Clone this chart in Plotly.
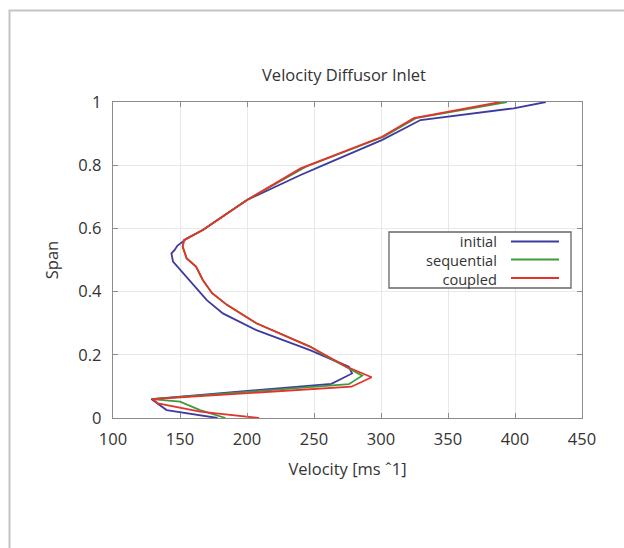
import plotly.graph_objects as go

# ---- data ----
span_initial = [1.0, 0.980, 0.943, 0.880, 0.800, 0.769, 0.690, 0.595, 0.568, 0.545, 0.532, 0.521, 0.495,
                0.447, 0.373, 0.331, 0.278, 0.215, 0.162, 0.141, 0.108, 0.060, 0.025, 0.0]
vel_initial = [423, 399, 329.5, 301, 257, 240, 200, 167, 155, 148, 146, 143.6, 144.8,
               155, 170, 182, 207, 247, 276, 278.4, 263, 128.6, 140, 178]

span_sequential = [1.0, 0.949, 0.890, 0.795, 0.690, 0.595, 0.563, 0.542, 0.505, 0.479, 0.437, 0.395,
                   0.358, 0.300, 0.226, 0.200, 0.134, 0.107, 0.060, 0.052, 0.025, 0.0]
vel_sequential = [394, 326, 302, 244, 200, 167, 153, 152, 155, 162, 167, 174,
                  185, 207, 247, 257, 286, 276, 129, 150, 165, 184]

span_coupled = [1.0, 0.949, 0.890, 0.801, 0.790, 0.690, 0.595, 0.563, 0.542, 0.505, 0.479, 0.437, 0.395,
                0.358, 0.300, 0.226, 0.212, 0.163, 0.129, 0.099, 0.060, 0.046, 0.020, 0.0]
vel_coupled = [389, 324.5, 300.8, 247, 240, 200, 167, 153, 152, 155, 162, 167, 174,
               185, 207, 247, 253, 274, 293, 278, 129.5, 133.6, 165, 209]

series_names = ["initial", "sequential", "coupled"]
series_colors = ["#3f3a9f", "#3f9a3f", "#e5322b"]

x_ticks = [100, 150, 200, 250, 300, 350, 400, 450]
y_ticks = [0, 0.2, 0.4, 0.6, 0.8, 1]
y_ticklabels = ["0", "0.2", "0.4", "0.6", "0.8", "1"]

FONT = "Open Sans"
TXT = "#333333"
FS = 16.5

fig = go.Figure()
for name, xs, ys, col in zip(series_names,
                             [vel_initial, vel_sequential, vel_coupled],
                             [span_initial, span_sequential, span_coupled],
                             series_colors):
    fig.add_trace(go.Scatter(x=xs, y=ys, mode="lines", name=name,
                             line=dict(color=col, width=1.8), showlegend=False))

W, H = 624, 548
ml, mr, mt, mb = 113, 42, 102, 130
pw, ph = W - ml - mr, H - mt - mb

def px_x(p):  # pixel -> paper x
    return (p - ml) / pw

def px_y(p):  # pixel -> paper y
    return (H - mb - p) / ph

shapes = []
annotations = []
# outer L-shaped frame (single open path)
shapes.append(dict(type="path", xref="paper", yref="paper",
                   path="M {:.5f},{:.5f} L {:.5f},{:.5f} L {:.5f},{:.5f}".format(
                       px_x(9.5), px_y(548), px_x(9.5), px_y(10.5), px_x(624), px_y(10.5)),
                   line=dict(color="#c4c4c4", width=2)))
# manual legend (text left, sample line right)
shapes.append(dict(type="rect", xref="paper", yref="paper", x0=px_x(389), x1=px_x(571), y0=px_y(232), y1=px_y(288),
                   line=dict(color="#666666", width=1.3), fillcolor="white", layer="above"))
rows = [241.5, 259.5, 278]
for col, ry in zip(series_colors, rows):
    shapes.append(dict(type="line", xref="paper", yref="paper", x0=px_x(511), x1=px_x(559), y0=px_y(ry), y1=px_y(ry),
                       line=dict(color=col, width=1.8), layer="above"))
annotations.append(dict(text="<br>".join(series_names), xref="paper", yref="paper", x=px_x(499), y=px_y(259.5),
                        xanchor="right", yanchor="middle", align="right", showarrow=False,
                        font=dict(family=FONT, size=14.6, color=TXT)))

fig.update_layout(
    width=W, height=H,
    margin=dict(l=ml, r=mr, t=mt, b=mb),
    paper_bgcolor="white", plot_bgcolor="white",
    title=dict(text="Velocity Diffusor Inlet", x=px_x(344), xref="paper", xanchor="center",
               y=1 - 75 / H, yanchor="middle", font=dict(family=FONT, size=FS, color=TXT)),
    font=dict(family=FONT, size=FS, color=TXT),
    shapes=shapes, annotations=annotations,
    xaxis=dict(range=[100, 450], tickvals=x_ticks, showgrid=True, gridcolor="#e8e8e8", gridwidth=1,
               showline=True, linecolor="#8c8c8c", linewidth=1.3, mirror="ticks",
               ticks="inside", ticklen=5, tickcolor="#8c8c8c", zeroline=False,
               ticklabelstandoff=6,
               tickfont=dict(family=FONT, size=FS, color=TXT),
               title=dict(text="Velocity [ms ˆ1]", standoff=14, font=dict(family=FONT, size=FS, color=TXT))),
    yaxis=dict(range=[0, 1], tickvals=y_ticks, ticktext=y_ticklabels, showgrid=True, gridcolor="#e8e8e8",
               gridwidth=1, showline=True, linecolor="#8c8c8c", linewidth=1.3, mirror="ticks",
               ticks="inside", ticklen=5, tickcolor="#8c8c8c", zeroline=False,
               ticklabelstandoff=7,
               tickfont=dict(family=FONT, size=FS, color=TXT),
               title=dict(text="Span", standoff=15, font=dict(family=FONT, size=FS, color=TXT))),
)

fig.write_html("out.html", config={"displayModeBar": False})
